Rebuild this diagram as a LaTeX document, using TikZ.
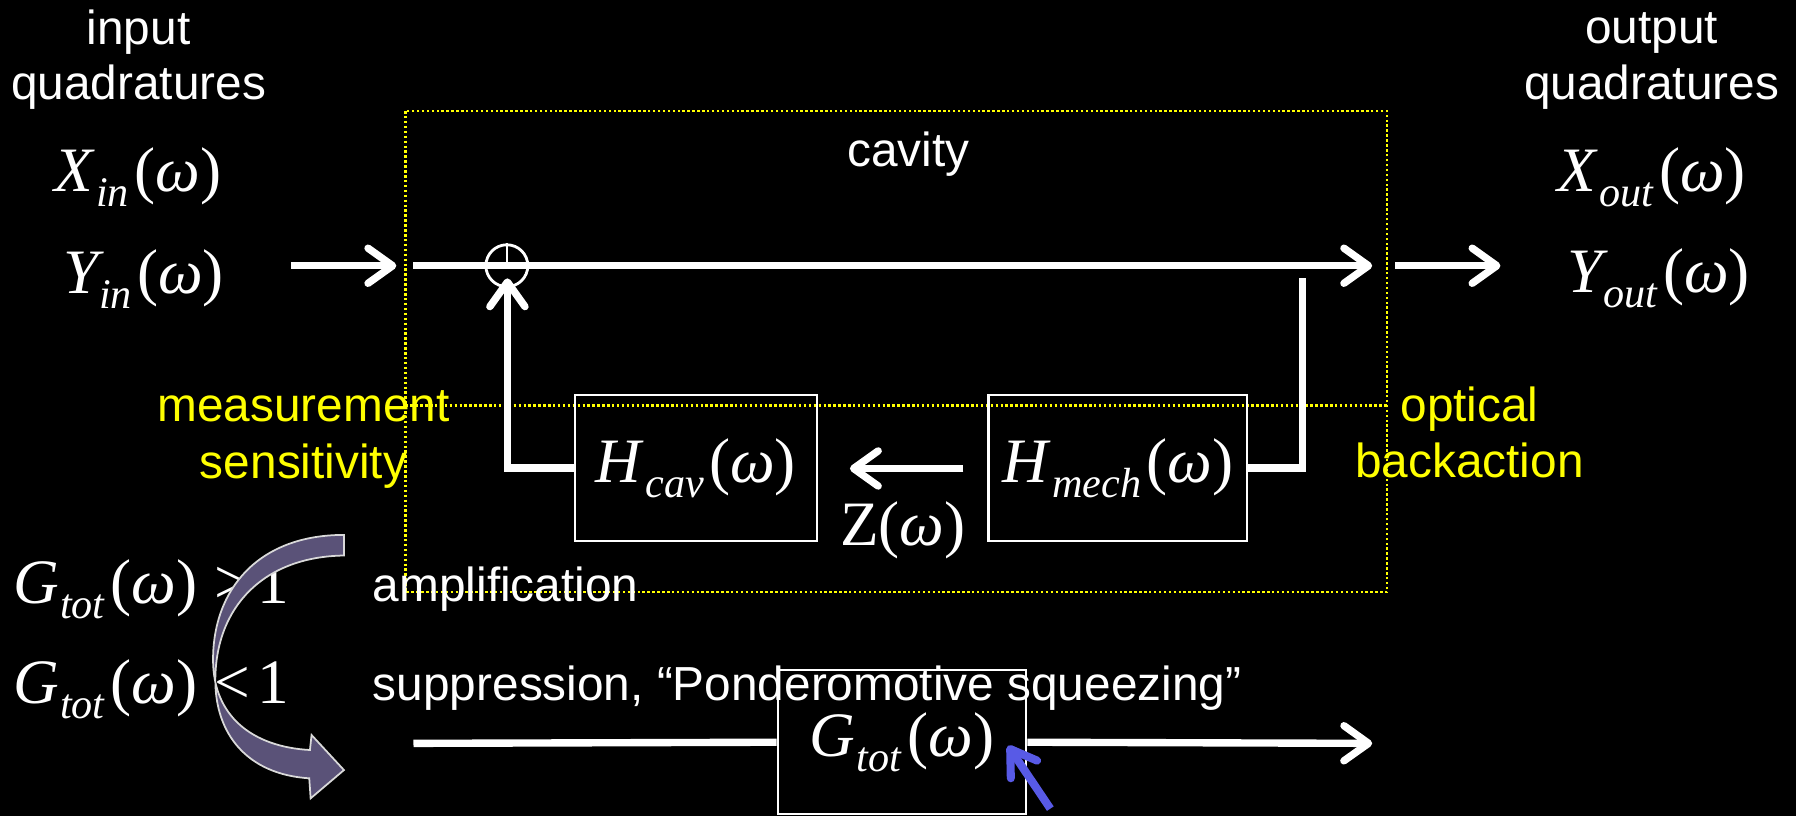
\documentclass[tikz,border=0pt]{standalone}
\usepackage{fontspec}
\setmainfont{Liberation Sans}
\newfontfamily\tms{Liberation Serif}
\usetikzlibrary{arrows.meta}
\definecolor{ylw}{RGB}{255,255,0}
\definecolor{bluearr}{RGB}{88,90,230}
\definecolor{curv}{RGB}{90,82,120}
\newcommand\sz{\fontsize{13.6pt}{16pt}\selectfont}
\newcommand\mth{\tms\fontsize{18pt}{20pt}\selectfont}
\newcommand\qf[3][0.3pt]{{\mth\textit{#2}\kern#1\raisebox{-0.24em}{\fontsize{12pt}{12pt}\selectfont\textit{#3}}\kern1.5pt(\textit{ω})}}
\begin{document}
\begin{tikzpicture}[x=0.011454cm,y=-0.011454cm,
  wl/.style={draw=white,line width=2.1pt},
  arr/.style={-{Straight Barb[length=7pt,width=10pt,round]}},
  ydot/.style={draw=ylw,line width=0.7pt,dash pattern=on 0.7pt off 0.7pt},
  txt/.style={inner sep=0pt,text=white,font=\sz},
  ytxt/.style={inner sep=0pt,text=ylw,font=\sz},
  mtxt/.style={inner sep=0pt,text=white},
  blk/.style={draw=white,line width=0.6pt,inner sep=0pt,text=white}]
\fill[black] (0,0) rectangle (1568,712);
\useasboundingbox (0,0) rectangle (1568,712);

% cavity frame
\draw[ydot] (354,97) rectangle (1211,517);
\draw[ydot] (354,354) -- (1211,354);

% texts
\node[txt,anchor=base] (inp) at (121,39) {input};
\node[txt,anchor=base] (inq) at (121,87) {quadratures};
\node[mtxt,anchor=base west] (xin) at (47,167) {\qf{X}{in}};
\node[mtxt,anchor=base west] (yin) at (55,256) {\qf[-1.5pt]{Y}{in}};
\node[txt,anchor=base] (outp) at (1442,38) {output};
\node[txt,anchor=base] (outq) at (1442,87) {quadratures};
\node[mtxt,anchor=base west] (xout) at (1359,167) {\qf{X}{out}};
\node[mtxt,anchor=base west] (yout) at (1368,255) {\qf[-1.5pt]{Y}{out}};
\node[txt,anchor=base] (cav) at (793,145) {cavity};
\node[ytxt,anchor=base] (meas1) at (265,368) {measurement};
\node[ytxt,anchor=base] (meas2) at (265,418) {sensitivity};
\node[ytxt,anchor=base] (opt1) at (1283,368) {optical};
\node[ytxt,anchor=base] (opt2) at (1283,417) {backaction};

% blocks
\node[blk,minimum width=211*0.011454cm,minimum height=127*0.011454cm] (hcav) at (607.5,408.5) {\qf{H}{cav}};
\node[blk,minimum width=226*0.011454cm,minimum height=127*0.011454cm] (hmech) at (976,408.5) {\qf{H}{mech}};
\node[blk,minimum width=217*0.011454cm,minimum height=126*0.011454cm] (gtot) at (787.5,648) {\qf{G}{tot}};

% summing point
\node[circle,draw=white,line width=0.8pt,minimum size=36.6*0.011454cm,inner sep=0pt] (sum) at (442.5,232) {};
\draw[white,line width=0.5pt] (sum.north) -- (sum.center);

% coordinates
\coordinate (inS) at (254,232); \coordinate (inE) at (346,232);
\coordinate (mS) at (361,232); \coordinate (mE) at (1198,232);
\coordinate (oS) at (1218,232); \coordinate (oE) at (1310,232);
\coordinate (fbtip) at (443,243);
\coordinate (mtop) at (1137,243);
\coordinate (zS) at (841,409); \coordinate (zE) at (742,409);
\coordinate (bS) at (361,649); \coordinate (bE) at (1198,649);
\coordinate (blT) at (917,706); \coordinate (blH) at (880,651);

% connectors
\draw[wl,arr] (inS) -- (inE);
\draw[wl,arr] (mS) -- (mE);
\draw[wl,arr] (oS) -- (oE);
\draw[wl,arr] (hcav.west) -| (fbtip);
\draw[wl] (hmech.east) -| (mtop);
\draw[wl,arr] (zS) -- (zE);
\node[mtxt,anchor=base west] (z) at (733,476) {{\mth Z(\textit{ω})}};

% lower part
\node[mtxt,anchor=base west] (g1) at (11,527) {\qf{G}{tot}\kern5pt{\mth >\kern2pt1}};
\node[mtxt,anchor=base west] (g2) at (11,614) {\qf{G}{tot}\kern5pt{\mth <\kern2pt1}};
\node[txt,anchor=base west] (amp) at (325,525) {amplification};
\node[txt,anchor=base west] (sup) at (325,612) {suppression, “Ponderomotive squeezing”};

\draw[wl] (bS) -- (gtot.west);
\draw[wl,arr] (gtot.east) -- (bE);
\draw[draw=bluearr,line width=2.3pt,-{Straight Barb[length=7pt,width=9pt,round]}] (blT) -- (blH);

% curved block arrow
\filldraw[fill=curv,draw=white!85!black,line width=0.5pt]
  (300.3,467) .. controls (225,467) and (186,515) .. (186,576)
  .. controls (186,625) and (220,652) .. (270.6,654.8)
  -- (272,641.7) -- (300.3,672.3) -- (271.2,697) -- (270,679.5)
  .. controls (215,676) and (188,640) .. (188,594)
  .. controls (188,530) and (230,486) .. (300.3,485) -- cycle;
\end{tikzpicture}
\end{document}
